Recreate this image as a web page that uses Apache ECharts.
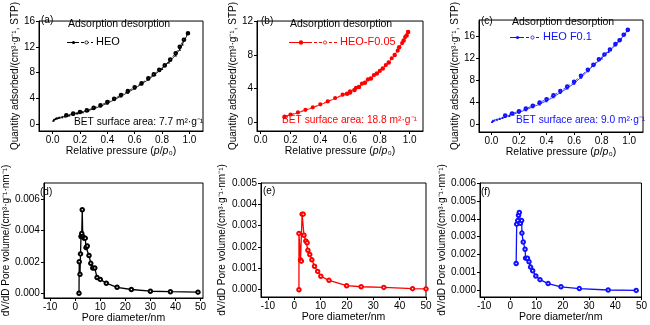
<!DOCTYPE html>
<html>
<head>
<meta charset="utf-8">
<script src="https://cdn.jsdelivr.net/npm/echarts@6/dist/echarts.min.js"></script>
<style>
  html, body { margin: 0; padding: 0; background: #fff; }
  #chart { width: 650px; height: 325px; }
</style>
</head>
<body>
<div id="chart"></div>
<script>
// ---- N2 isotherms: [relative pressure, quantity adsorbed] ----
const heoAds = [[0.005,0.55],[0.01,0.7],[0.02,0.8],[0.03,0.9],[0.04,0.95],[0.05,1.0],[0.07,1.1],[0.09,1.2],[0.12,1.35],[0.15,1.5],[0.18,1.65],[0.22,1.85],[0.26,2.05],[0.3,2.35],[0.35,2.75],[0.4,3.2],[0.45,3.75],[0.5,4.3],[0.55,4.9],[0.6,5.5],[0.65,6.2],[0.7,6.9],[0.75,7.7],[0.8,8.6],[0.85,9.6],[0.9,10.7],[0.93,11.6],[0.95,12.4],[0.97,13.2],[0.99,14.1]];
const heoDes = [[0.99,14.1],[0.96,13.1],[0.93,12.0],[0.9,11.0],[0.86,10.0],[0.82,9.1],[0.78,8.4],[0.74,7.7],[0.7,7.1],[0.65,6.3],[0.6,5.7],[0.55,5.1],[0.5,4.5],[0.45,3.9],[0.4,3.4],[0.35,2.9],[0.3,2.5],[0.25,2.1],[0.2,1.85],[0.15,1.6],[0.1,1.35]];

const f005Ads = [[0.15,0.6],[0.2,0.9],[0.25,1.15],[0.3,1.45],[0.35,1.75],[0.4,2.1],[0.45,2.45],[0.5,2.85],[0.55,3.2],[0.58,3.4],[0.6,3.55],[0.63,3.85],[0.66,4.2],[0.7,4.7],[0.74,5.2],[0.78,5.8],[0.82,6.4],[0.86,7.1],[0.9,8.0],[0.93,8.9],[0.96,9.7],[0.98,10.3],[0.99,10.7]];
const f005Des = [[0.99,10.7],[0.97,10.1],[0.95,9.4],[0.92,8.5],[0.88,7.6],[0.84,6.8],[0.8,6.1],[0.76,5.6],[0.72,5.1],[0.68,4.6],[0.64,4.1],[0.6,3.7],[0.55,3.3],[0.5,2.9],[0.45,2.5],[0.4,2.15],[0.35,1.8],[0.3,1.5],[0.25,1.2],[0.2,0.95],[0.16,0.7]];

const f01Ads = [[0.005,0.4],[0.01,0.55],[0.02,0.65],[0.04,0.8],[0.06,0.95],[0.08,1.1],[0.1,1.3],[0.13,1.5],[0.16,1.75],[0.2,2.1],[0.25,2.55],[0.3,3.1],[0.35,3.6],[0.4,4.2],[0.45,4.9],[0.5,5.7],[0.55,6.5],[0.6,7.4],[0.65,8.5],[0.7,9.7],[0.75,10.9],[0.8,12.0],[0.85,13.2],[0.9,14.4],[0.94,15.5],[0.97,16.5],[0.99,17.2]];
const f01Des = [[0.99,17.2],[0.96,16.3],[0.93,15.3],[0.9,14.6],[0.86,13.6],[0.82,12.7],[0.78,11.8],[0.74,10.8],[0.7,9.9],[0.65,8.8],[0.6,7.7],[0.55,6.8],[0.5,6.0],[0.45,5.2],[0.4,4.5],[0.35,3.9],[0.3,3.3],[0.25,2.8],[0.2,2.3],[0.15,1.9],[0.1,1.5]];

// ---- BJH pore size distributions: [pore diameter nm, dV/dD] ----
const heoPore = [[1.5,0],[1.6,0.0020],[1.9,0.0012],[2.1,0.0025],[2.3,0.0036],[2.6,0.0038],[2.8,0.0053],[3.0,0.0036],[3.5,0.0035],[4.0,0.0035],[4.3,0.0029],[4.8,0.0030],[5.5,0.0024],[6.2,0.0019],[7.0,0.0016],[7.8,0.0016],[8.7,0.0010],[10.0,0.00088],[12.4,0.00064],[16.7,0.00038],[22.4,0.00024],[30,0.00013],[38,0.0001],[49,0.00007]];
const f005Pore = [[1.8,0],[1.8,0.00264],[2.4,0.0014],[2.7,0.00134],[3.0,0.00354],[3.4,0.00354],[3.7,0.00255],[4.4,0.00228],[4.9,0.0022],[5.2,0.00185],[5.9,0.00165],[6.7,0.0014],[7.7,0.0011],[8.9,0.00086],[10.1,0.00063],[13.2,0.00044],[19.9,0.00019],[25.4,0.00014],[34,0.00011],[44.9,0.00005],[50,0.00004]];
const f01Pore = [[2.2,0.0015],[2.4,0.0037],[2.8,0.0039],[3.1,0.0042],[3.4,0.00435],[3.8,0.00375],[4.3,0.0039],[4.4,0.0032],[4.9,0.0027],[5.6,0.0023],[5.8,0.0018],[6.5,0.0018],[7.1,0.0016],[7.7,0.0013],[8.5,0.0011],[9.7,0.0008],[11.3,0.0006],[14.4,0.00038],[19.3,0.0002],[26.3,0.0001],[37.3,0.00002],[48,0.0]];

// ---- tick labels ----
const pTicks = [0, 0.2, 0.4, 0.6, 0.8, 1.0];
const dTicks = [-10, 0, 10, 20, 30, 40, 50];
const qTicksA = [0, 4, 8, 12, 16];
const qTicksB = [0, 4, 8, 12];
const qTicksC = [0, 4, 8, 12, 16];
const vTicksD = [0, 0.002, 0.004, 0.006];
const vTicksE = [0, 0.001, 0.002, 0.003, 0.004, 0.005];
const vTicksF = [0, 0.001, 0.002, 0.003, 0.004, 0.005, 0.006];

const names = ['HEO', 'HEO-F0.05', 'HEO F0.1'];
const betText = ['BET surface area: 7.7 m²·g⁻¹', 'BET surface area: 18.8 m²·g⁻¹', 'BET surface area: 9.0 m²·g⁻¹'];
const colors = ['#000000', '#ff0000', '#1010ff'];
const FONT = 'Liberation Sans, Arial, sans-serif';

const grids = [
  { left: 39,  top: 13,  width: 164, height: 118 },
  { left: 257, top: 13,  width: 166, height: 118 },
  { left: 479, top: 13,  width: 164, height: 119 },
  { left: 36,  top: 183, width: 167, height: 115 },
  { left: 261, top: 183, width: 165, height: 114 },
  { left: 480, top: 183, width: 163, height: 114 }
];

const xRanges = [[-0.1, 1.1], [-0.025, 1.09], [-0.09, 1.1], [-12.5, 51], [-12.6, 50], [-11.6, 50]];
const yRanges = [[-1.1, 16], [-1.0, 12], [-1.5, 19], [-0.0003, 0.007], [-0.00034, 0.005], [-0.00037, 0.006]];
const yTickSets = [qTicksA, qTicksB, qTicksC, vTicksD, vTicksE, vTicksF];
const yGaps = [17, 18, 17, 27, 34, 27];

const pName = 'Relative pressure ({i|p}/{i|p}₀)';
const qName = 'Quantity adsorbed/(cm³·g⁻¹, STP)';
const vName = 'dV/dD Pore volume/(cm³·g⁻¹·nm⁻¹)';

const axisCommon = {
  axisLine: { onZero: false, lineStyle: { color: '#000', width: 1 } },
  splitLine: { show: false }
};

const xAxis = grids.map((g, i) => {
  const top = i < 3;
  const ticks = top ? pTicks : dTicks;
  return Object.assign({}, JSON.parse(JSON.stringify(axisCommon)), {
    type: 'value', gridIndex: i, min: xRanges[i][0], max: xRanges[i][1],
    name: top ? pName : 'Pore diameter/nm',
    nameLocation: 'middle', nameGap: i === 2 ? 15 : 13,
    nameTextStyle: { color: '#000', fontFamily: FONT, fontSize: 10.5,
      rich: { i: { fontStyle: 'italic', fontFamily: FONT, fontSize: 10.5, color: '#000' } } },
    axisTick: { length: 3, lineStyle: { color: '#000' }, customValues: ticks },
    axisLabel: { color: '#000', fontFamily: FONT, fontSize: 10, margin: 4, customValues: ticks,
      formatter: v => top ? v.toFixed(1) : String(Math.round(v)) }
  });
});

const yAxis = grids.map((g, i) => {
  const top = i < 3;
  const ticks = yTickSets[i];
  return Object.assign({}, JSON.parse(JSON.stringify(axisCommon)), {
    type: 'value', gridIndex: i, min: yRanges[i][0], max: yRanges[i][1],
    name: top ? qName : vName,
    nameLocation: 'middle', nameGap: yGaps[i],
    nameTextStyle: { color: '#000', fontFamily: FONT, fontSize: 10 },
    axisTick: { length: 3, lineStyle: { color: '#000' }, customValues: ticks },
    axisLabel: { color: '#000', fontFamily: FONT, fontSize: 10, margin: 4, customValues: ticks,
      formatter: v => top ? String(Math.round(v)) : v.toFixed(3) }
  });
});

const isoSets = [[heoAds, heoDes], [f005Ads, f005Des], [f01Ads, f01Des]];
const poreSets = [heoPore, f005Pore, f01Pore];
const series = [];
isoSets.forEach((pair, i) => {
  const c = colors[i];
  series.push({
    type: 'line', name: names[i] + ' adsorption', xAxisIndex: i, yAxisIndex: i,
    data: pair[0], symbol: i === 1 ? 'circle' : 'triangle',
    symbolSize: i === 1 ? (v => (v[0] < 0.56 ? 1.5 : 4.5)) : 2.6,
    lineStyle: { color: c, width: 0.8 }, itemStyle: { color: c },
    animation: false, z: 3
  });
  series.push({
    type: 'line', name: names[i] + ' desorption', xAxisIndex: i, yAxisIndex: i,
    data: pair[1], symbol: 'emptyCircle', symbolSize: i === 1 ? 2.2 : 2.6,
    lineStyle: { color: c, width: 0.8, type: [3, 2] }, itemStyle: { color: c, borderColor: c, borderWidth: 0.7 },
    animation: false, z: 2
  });
});
poreSets.forEach((d, i) => {
  const c = colors[i];
  series.push({
    type: 'line', name: names[i] + ' pore', xAxisIndex: 3 + i, yAxisIndex: 3 + i,
    data: d, symbol: 'emptyCircle', symbolSize: 3.5,
    lineStyle: { color: c, width: 1.3 }, itemStyle: { color: c, borderColor: c, borderWidth: 1.5 },
    animation: false
  });
});

// panel tags, legends and BET annotations
const graphic = [];
const tags = ['(a)', '(b)', '(c)', '(d)', '(e)', '(f)'];
const tagPos = [[41, 15], [261, 16], [481, 16], [40, 187], [263, 186], [481, 187]];
tags.forEach((t, i) => graphic.push({
  type: 'text', left: tagPos[i][0], top: tagPos[i][1],
  style: { text: t, fontFamily: FONT, fontSize: 10, fill: '#000' }
}));
const legTitle = [[68, 19], [290, 19], [512, 17]];
const legLine = [[67, 93, 42.5], [289, 337, 42.5], [510, 540, 37.5]];
legTitle.forEach((p, i) => {
  graphic.push({ type: 'text', left: p[0], top: p[1],
    style: { text: 'Adsorption desorption', fontFamily: FONT, fontSize: 10.5, fill: '#000' } });
  const [x0, x1, y] = legLine[i];
  const xm = (x0 + x1) / 2;
  const c = colors[i];
  graphic.push({ type: 'line', shape: { x1: x0, y1: y, x2: xm - 1, y2: y }, style: { stroke: c, lineWidth: 1 } });
  graphic.push({ type: 'line', shape: { x1: xm + 1, y1: y, x2: x1, y2: y }, style: { stroke: c, lineWidth: 1, lineDash: [3, 2] } });
  graphic.push({ type: 'circle', shape: { cx: x0 + (xm - x0) * 0.5, cy: y, r: i === 1 ? 2.2 : 1.6 }, style: { fill: c } });
  graphic.push({ type: 'circle', shape: { cx: xm + (x1 - xm) * 0.5, cy: y, r: 1.6 }, style: { fill: '#fff', stroke: c, lineWidth: 0.8 } });
  graphic.push({ type: 'text', left: x1 + 3, top: y - 6.5,
    style: { text: names[i], fontFamily: FONT, fontSize: 11, fill: c } });
});
const betPos = [[74, 117], [282, 115], [516, 115]];
betPos.forEach((p, i) => graphic.push({
  type: 'text', left: p[0], top: p[1],
  style: { text: betText[i], fontFamily: FONT, fontSize: 10.2, fill: colors[i] }
}));

const chart = echarts.init(document.getElementById('chart'), null, { renderer: 'canvas' });
chart.setOption({
  backgroundColor: '#fff',
  animation: false,
  grid: grids.map(g => Object.assign({ show: true, borderColor: '#000', borderWidth: 1, backgroundColor: 'transparent' }, g)),
  xAxis, yAxis, series, graphic
});
</script>
</body>
</html>
